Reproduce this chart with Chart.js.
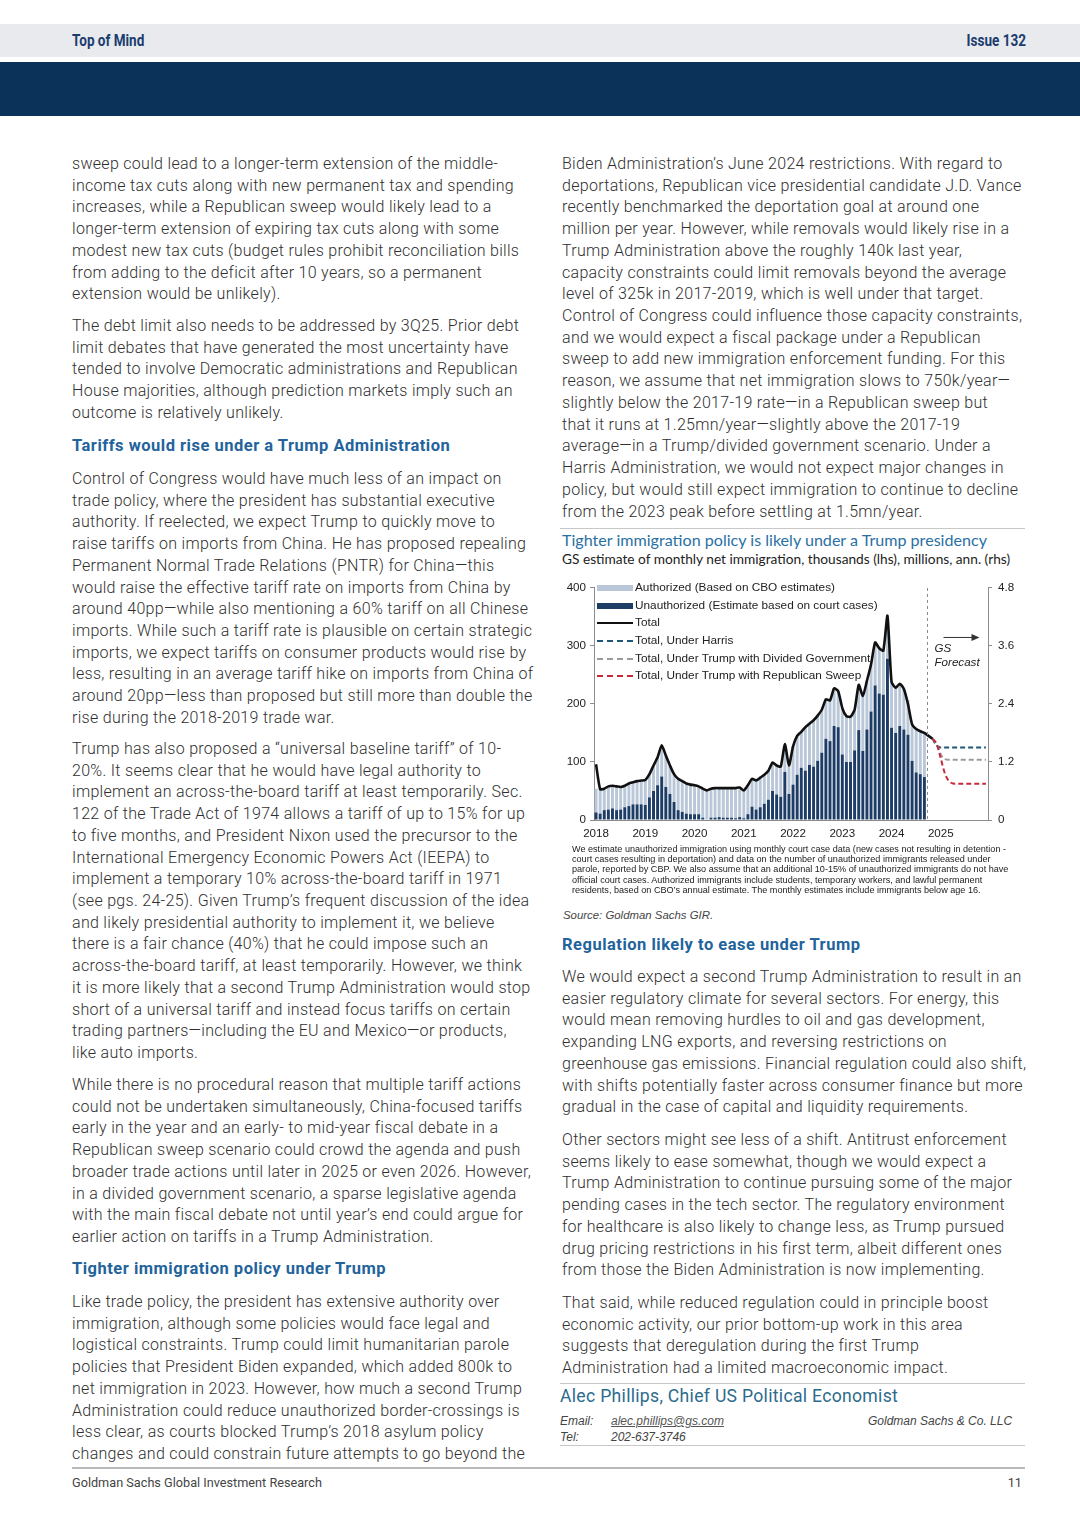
<!DOCTYPE html>
<html>
<head>
<meta charset="utf-8">
<script src="https://cdn.jsdelivr.net/npm/chart.js@4.4.1/dist/chart.umd.min.js"></script>
<style>
  html, body { margin: 0; padding: 0; background: #fff; }
  #page { position: relative; width: 1080px; height: 1527px; overflow: hidden; font-family: Roboto, "Liberation Sans", sans-serif; color: #333; }
  .band { position: absolute; left: 0; width: 1080px; }
  .hdr { position: absolute; top: 31px; font-family: Roboto, "Liberation Sans", sans-serif; font-weight: bold; font-size: 16.5px; color: #1b3d6e; transform: scaleX(0.82); }
  .p { position: absolute; font-weight: 300; font-size: 16px; letter-spacing: 0.3px; line-height: 21.72px; white-space: nowrap; color: #2f2f2f; }
  .h { position: absolute; font-weight: bold; font-size: 16.5px; letter-spacing: 0.5px; line-height: 21.72px; color: #23639c; white-space: nowrap; }
  .rule { position: absolute; height: 1px; background: #c8c8c8; }
  #chartTitle { position: absolute; left: 562px; top: 530px; font-family: Lato, sans-serif; font-size: 16.1px; color: #2a70a4; white-space: nowrap; }
  #chartSub { position: absolute; left: 562px; top: 550px; font-family: Lato, sans-serif; font-size: 13.7px; color: #222; white-space: nowrap; }
  #chartBox { position: absolute; left: 560px; top: 575px; width: 466px; height: 270px; }
  #legend { position: absolute; left: 597px; top: 579px; font-family: "Liberation Sans", Arial, sans-serif; font-size: 11.8px; color: #222; }
  #legend .row { height: 17.7px; line-height: 17.7px; white-space: nowrap; position: relative; }
  #legend .sw { position: absolute; left: 0; width: 36px; }
  #legend .tx { position: absolute; left: 38px; top: 0; }
  #notes { position: absolute; left: 572px; top: 844px; font-family: "Liberation Sans", Arial, sans-serif; font-size: 9.1px; line-height: 10.2px; color: #222; white-space: nowrap; }
  #source { position: absolute; left: 563px; top: 909px; font-family: "Liberation Sans", Arial, sans-serif; font-style: italic; font-size: 11.4px; color: #444; }
  #author { position: absolute; left: 560px; top: 1386px; font-size: 17.6px; letter-spacing: 0.3px; color: #2b6b8c; white-space: nowrap; }
  .small { position: absolute; font-family: "Liberation Sans", sans-serif; font-style: italic; font-size: 12px; color: #444; white-space: nowrap; }
  #footL { position: absolute; left: 72px; top: 1475px; font-size: 12.7px; color: #444; }
  #footR { position: absolute; left: 1000px; width: 22px; text-align: right; top: 1475px; font-size: 12.7px; color: #444; }
</style>
</head>
<body>
<div id="page">
  <div class="band" style="top:24px;height:33px;background:#e9eaee;"></div>
  <div class="band" style="top:62px;height:54px;background:#0b3259;"></div>
  <div class="hdr" style="left:72px;transform-origin:left center;">Top of Mind</div>
  <div class="hdr" style="left:900px;width:126px;text-align:right;transform-origin:right center;">Issue 132</div>

  <div class="p" style="left:72px;top:153px;">sweep could lead to a longer-term extension of the middle-<br>income tax cuts along with new permanent tax and spending<br>increases, while a Republican sweep would likely lead to a<br>longer-term extension of expiring tax cuts along with some<br>modest new tax cuts (budget rules prohibit reconciliation bills<br>from adding to the deficit after 10 years, so a permanent<br>extension would be unlikely).</div>
  <div class="p" style="left:72px;top:315px;">The debt limit also needs to be addressed by 3Q25. Prior debt<br>limit debates that have generated the most uncertainty have<br>tended to involve Democratic administrations and Republican<br>House majorities, although prediction markets imply such an<br>outcome is relatively unlikely.</div>
  <div class="h" style="left:72px;top:435px;">Tariffs would rise under a Trump Administration</div>
  <div class="p" style="left:72px;top:468px;">Control of Congress would have much less of an impact on<br>trade policy, where the president has substantial executive<br>authority. If reelected, we expect Trump to quickly move to<br>raise tariffs on imports from China. He has proposed repealing<br>Permanent Normal Trade Relations (PNTR) for China—this<br>would raise the effective tariff rate on imports from China by<br>around 40pp—while also mentioning a 60% tariff on all Chinese<br>imports. While such a tariff rate is plausible on certain strategic<br>imports, we expect tariffs on consumer products would rise by<br>less, resulting in an average tariff hike on imports from China of<br>around 20pp—less than proposed but still more than double the<br>rise during the 2018-2019 trade war.</div>
  <div class="p" style="left:72px;top:738px;">Trump has also proposed a “universal baseline tariff” of 10-<br>20%. It seems clear that he would have legal authority to<br>implement an across-the-board tariff at least temporarily. Sec.<br>122 of the Trade Act of 1974 allows a tariff of up to 15% for up<br>to five months, and President Nixon used the precursor to the<br>International Emergency Economic Powers Act (IEEPA) to<br>implement a temporary 10% across-the-board tariff in 1971<br>(see pgs. 24-25). Given Trump’s frequent discussion of the idea<br>and likely presidential authority to implement it, we believe<br>there is a fair chance (40%) that he could impose such an<br>across-the-board tariff, at least temporarily. However, we think<br>it is more likely that a second Trump Administration would stop<br>short of a universal tariff and instead focus tariffs on certain<br>trading partners—including the EU and Mexico—or products,<br>like auto imports.</div>
  <div class="p" style="left:72px;top:1074px;">While there is no procedural reason that multiple tariff actions<br>could not be undertaken simultaneously, China-focused tariffs<br>early in the year and an early- to mid-year fiscal debate in a<br>Republican sweep scenario could crowd the agenda and push<br>broader trade actions until later in 2025 or even 2026. However,<br>in a divided government scenario, a sparse legislative agenda<br>with the main fiscal debate not until year’s end could argue for<br>earlier action on tariffs in a Trump Administration.</div>
  <div class="h" style="left:72px;top:1258px;">Tighter immigration policy under Trump</div>
  <div class="p" style="left:72px;top:1291px;">Like trade policy, the president has extensive authority over<br>immigration, although some policies would face legal and<br>logistical constraints. Trump could limit humanitarian parole<br>policies that President Biden expanded, which added 800k to<br>net immigration in 2023. However, how much a second Trump<br>Administration could reduce unauthorized border-crossings is<br>less clear, as courts blocked Trump’s 2018 asylum policy<br>changes and could constrain future attempts to go beyond the</div>

  <div class="p" style="left:562px;top:153px;">Biden Administration’s June 2024 restrictions. With regard to<br>deportations, Republican vice presidential candidate J.D. Vance<br>recently benchmarked the deportation goal at around one<br>million per year. However, while removals would likely rise in a<br>Trump Administration above the roughly 140k last year,<br>capacity constraints could limit removals beyond the average<br>level of 325k in 2017-2019, which is well under that target.<br>Control of Congress could influence those capacity constraints,<br>and we would expect a fiscal package under a Republican<br>sweep to add new immigration enforcement funding. For this<br>reason, we assume that net immigration slows to 750k/year—<br>slightly below the 2017-19 rate—in a Republican sweep but<br>that it runs at 1.25mn/year—slightly above the 2017-19<br>average—in a Trump/divided government scenario. Under a<br>Harris Administration, we would not expect major changes in<br>policy, but would still expect immigration to continue to decline<br>from the 2023 peak before settling at 1.5mn/year.</div>
  <div class="rule" style="left:560px;top:528px;width:465px;"></div>
  <div id="chartTitle">Tighter immigration policy is likely under a Trump presidency</div>
  <div id="chartSub">GS estimate of monthly net immigration, thousands (lhs), millions, ann. (rhs)</div>
  <div id="chartBox"><canvas id="chart"></canvas></div>
  <div id="legend"></div>
  <div id="notes">We estimate unauthorized immigration using monthly court case data (new cases not resulting in detention -<br>court cases resulting in deportation) and data on the number of unauthorized immigrants released under<br>parole, reported by CBP. We also assume that an additional 10-15% of unauthorized immigrants do not have<br>official court cases. Authorized immigrants include students, temporary workers, and lawful permanent<br>residents, based on CBO’s annual estimate. The monthly estimates include immigrants below age 16.</div>
  <div id="source">Source: Goldman Sachs GIR.</div>

  <div class="h" style="left:562px;top:934px;">Regulation likely to ease under Trump</div>
  <div class="p" style="left:562px;top:966px;">We would expect a second Trump Administration to result in an<br>easier regulatory climate for several sectors. For energy, this<br>would mean removing hurdles to oil and gas development,<br>expanding LNG exports, and reversing restrictions on<br>greenhouse gas emissions. Financial regulation could also shift,<br>with shifts potentially faster across consumer finance but more<br>gradual in the case of capital and liquidity requirements.</div>
  <div class="p" style="left:562px;top:1129px;">Other sectors might see less of a shift. Antitrust enforcement<br>seems likely to ease somewhat, though we would expect a<br>Trump Administration to continue pursuing some of the major<br>pending cases in the tech sector. The regulatory environment<br>for healthcare is also likely to change less, as Trump pursued<br>drug pricing restrictions in his first term, albeit different ones<br>from those the Biden Administration is now implementing.</div>
  <div class="p" style="left:562px;top:1292px;">That said, while reduced regulation could in principle boost<br>economic activity, our prior bottom-up work in this area<br>suggests that deregulation during the first Trump<br>Administration had a limited macroeconomic impact.</div>

  <div class="rule" style="left:560px;top:1383px;width:465px;"></div>
  <div id="author">Alec Phillips, Chief US Political Economist</div>
  <div class="small" style="left:560px;top:1414px;">Email:</div>
  <div class="small" style="left:611px;top:1414px;text-decoration:underline;color:#555;">alec.phillips@gs.com</div>
  <div class="small" style="left:868px;top:1414px;">Goldman Sachs &amp; Co. LLC</div>
  <div class="small" style="left:560px;top:1430px;">Tel:</div>
  <div class="small" style="left:611px;top:1430px;">202-637-3746</div>
  <div class="rule" style="left:560px;top:1445px;width:465px;"></div>

  <div class="rule" style="left:72px;top:1467px;width:953px;height:2px;background:#b9b9b9;"></div>
  <div id="footL">Goldman Sachs Global Investment Research</div>
  <div id="footR">11</div>
</div>

<script>
// monthly net immigration, thousands, Jan 2018 onwards
const years = ['2018', '2019', '2020', '2021', '2022', '2023', '2024', '2025'];
const months = ['Jan', 'Feb', 'Mar', 'Apr', 'May', 'Jun', 'Jul', 'Aug', 'Sep', 'Oct', 'Nov', 'Dec'];

// Jan 2018 - Sep 2024
const unauthorized = [
  13, 11, 17, 18, 20, 17, 18, 22, 24, 27, 27, 27,
  26, 39, 50, 60, 75, 57, 45, 31, 17, 14, 11, 10,
  10, 10, 4, 1, 4, 4, 5, 4, 4, 4, 3, 5,
  3, 10, 23, 18, 22, 28, 35, 50, 44, 40, 83, 45,
  61, 78, 90, 85, 95, 92, 102, 116, 140, 136, 162, 160,
  113, 100, 100, 120, 155, 119, 156, 187, 232, 218, 216, 278,
  159, 150, 162, 156, 147, 102, 82, 79, 74
];
const authorized = [
  41, 42, 37, 40, 39, 41, 39, 37, 39, 38, 40, 41,
  43, 40, 44, 48, 52, 54, 49, 48, 54, 53, 52, 51,
  50, 48, 50, 50, 50, 51, 51, 51, 51, 51, 52, 48,
  48, 50, 48, 50, 51, 50, 50, 49, 50, 52, 48, 49,
  66, 67, 62, 75, 71, 80, 78, 74, 68, 70, 65, 62,
  80, 79, 78, 70, 78, 95, 84, 81, 74, 78, 76, 74,
  79, 78, 73, 70, 60, 63, 75, 74, 76
];
// Jan 2018 - Nov 2024
const total = [
  96, 53, 54, 58, 59, 58, 57, 59, 63, 65, 67, 68,
  69, 79, 94, 108, 129, 111, 94, 79, 71, 67, 63, 61,
  60, 58, 54, 51, 54, 55, 55, 55, 55, 55, 55, 56,
  51, 60, 71, 68, 73, 78, 85, 99, 94, 92, 131, 94,
  127, 145, 152, 160, 166, 172, 180, 190, 208, 206, 227, 222,
  193, 179, 178, 190, 233, 214, 240, 268, 306, 296, 292, 352,
  238, 228, 235, 226, 200, 165, 157, 153, 150, 145, 140
];
// forecasts, Nov 2024 - Dec 2025
const harris = [140, 128, 125, 125, 125, 125, 125, 125, 125, 125, 125, 125, 125, 125];
const trumpDivided = [140, 131, 113, 105, 104, 104, 104, 104, 104, 104, 104, 104, 104, 104];
const trumpSweep = [140, 131, 106, 80, 67, 63, 62.5, 62.5, 62.5, 62.5, 62.5, 62.5, 62.5, 62.5];
const forecastStart = 82; // index of Nov 2024

const leftTicks = [0, 100, 200, 300, 400];
const rightTicks = [0, 1.2, 2.4, 3.6, 4.8];

const C = {
    auth: '#b9c7d8',
    unauth: '#1d3d66',
    total: '#111111',
    harris: '#1f5577',
    divided: '#9a9a9a',
    sweep: '#c8283c'
};

const labels = years.flatMap(y => months.map(m => m + ' ' + y));
const pad = arr => Array(forecastStart).fill(null).concat(arr);

const legendItems = [
    { text: 'Authorized (Based on CBO estimates)', type: 'bar', color: C.auth },
    { text: 'Unauthorized (Estimate based on court cases)', type: 'bar', color: C.unauth },
    { text: 'Total', type: 'line', color: C.total },
    { text: 'Total, Under Harris', type: 'dash', color: C.harris },
    { text: 'Total, Under Trump with Divided Government', type: 'dash', color: C.divided },
    { text: 'Total, Under Trump with Republican Sweep', type: 'dash', color: C.sweep }
];
const legendEl = document.getElementById('legend');
legendItems.forEach(it => {
    const row = document.createElement('div');
    row.className = 'row';
    const sw = document.createElement('div');
    sw.className = 'sw';
    if (it.type === 'bar') {
        sw.style.top = '6px'; sw.style.height = '6px'; sw.style.background = it.color;
    } else if (it.type === 'line') {
        sw.style.top = '8px'; sw.style.borderTop = '2.5px solid ' + it.color;
    } else {
        sw.style.top = '8px'; sw.style.borderTop = '2px dashed ' + it.color;
    }
    const tx = document.createElement('div');
    tx.className = 'tx';
    tx.textContent = it.text;
    row.appendChild(sw);
    row.appendChild(tx);
    legendEl.appendChild(row);
});

// dotted divider and "GS Forecast" arrow
const forecastMarker = {
    id: 'forecastMarker',
    afterDatasetsDraw(chart) {
        const { ctx, chartArea, scales } = chart;
        const x = Math.round((scales.x.getPixelForValue(80) + scales.x.getPixelForValue(81)) / 2) + 1.5;
        ctx.save();
        ctx.strokeStyle = '#8a8a8a';
        ctx.lineWidth = 1;
        ctx.setLineDash([3, 3]);
        ctx.beginPath();
        ctx.moveTo(x, chartArea.top);
        ctx.lineTo(x, chartArea.bottom);
        ctx.stroke();
        ctx.setLineDash([]);
        ctx.strokeStyle = '#333';
        ctx.fillStyle = '#333';
        const ay = chartArea.top + 49.5;
        ctx.beginPath();
        ctx.moveTo(x + 16, ay);
        ctx.lineTo(x + 46, ay);
        ctx.stroke();
        ctx.beginPath();
        ctx.moveTo(x + 52, ay);
        ctx.lineTo(x + 44, ay - 3.5);
        ctx.lineTo(x + 44, ay + 3.5);
        ctx.closePath();
        ctx.fill();
        ctx.font = 'italic 11.6px "Liberation Sans", Arial, sans-serif';
        ctx.fillStyle = '#222';
        ctx.textBaseline = 'middle';
        ctx.fillText('GS', x + 7, chartArea.top + 61);
        ctx.fillText('Forecast', x + 7, chartArea.top + 75);
        ctx.restore();
    }
};

const tickFont = { family: '"Liberation Sans", Arial, sans-serif', size: 11.6 };
const axisColor = '#8c8c8c';

new Chart(document.getElementById('chart').getContext('2d'), {
    type: 'bar',
    data: {
        labels: labels,
        datasets: [
            { type: 'line', label: 'Total, Under Trump with Republican Sweep', data: pad(trumpSweep), yAxisID: 'yl',
              borderColor: C.sweep, borderWidth: 2, borderDash: [5, 3], pointRadius: 0, cubicInterpolationMode: 'monotone', order: 0 },
            { type: 'line', label: 'Total', data: total, yAxisID: 'yl',
              borderColor: C.total, borderWidth: 2.6, pointRadius: 0, tension: 0.2, order: 1 },
            { type: 'line', label: 'Total, Under Trump with Divided Government', data: pad(trumpDivided), yAxisID: 'yl',
              borderColor: C.divided, borderWidth: 2, borderDash: [5, 3], pointRadius: 0, cubicInterpolationMode: 'monotone', order: 2 },
            { type: 'line', label: 'Total, Under Harris', data: pad(harris), yAxisID: 'yl',
              borderColor: C.harris, borderWidth: 2, borderDash: [5, 3], pointRadius: 0, cubicInterpolationMode: 'monotone', order: 3 },
            { label: 'Unauthorized (Estimate based on court cases)', data: unauthorized, yAxisID: 'y',
              backgroundColor: C.unauth, barPercentage: 0.72, categoryPercentage: 1, order: 5 },
            { label: 'Authorized (Based on CBO estimates)', data: authorized, yAxisID: 'y',
              backgroundColor: C.auth, barPercentage: 0.72, categoryPercentage: 1, order: 6 }
        ]
    },
    options: {
        responsive: true,
        maintainAspectRatio: false,
        animation: false,
        layout: { padding: { top: 10, left: 0, right: 0, bottom: 0 } },
        plugins: { legend: { display: false }, tooltip: { enabled: false } },
        scales: {
            x: {
                stacked: true,
                offset: true,
                grid: {
                    offset: true,
                    drawOnChartArea: false,
                    drawTicks: true,
                    tickLength: 4,
                    color: ctx => (ctx.index % 12 === 0 ? axisColor : 'rgba(0,0,0,0)')
                },
                border: { color: axisColor },
                ticks: {
                    autoSkip: false,
                    maxRotation: 0,
                    padding: 3,
                    font: tickFont,
                    color: '#222',
                    callback: (v, i) => (i % 12 === 0 ? years[i / 12] : null)
                },
                afterFit: s => { s.height = 25; }
            },
            y: {
                stacked: true,
                position: 'left',
                min: leftTicks[0],
                max: leftTicks[leftTicks.length - 1],
                afterBuildTicks: s => { s.ticks = leftTicks.map(v => ({ value: v })); },
                grid: { drawOnChartArea: false, drawTicks: true, tickLength: 4, color: axisColor },
                border: { color: axisColor },
                ticks: { font: tickFont, color: '#222', padding: 4 },
                afterFit: s => { s.width = 34; }
            },
            y2: {
                position: 'right',
                min: rightTicks[0],
                max: rightTicks[rightTicks.length - 1],
                afterBuildTicks: s => { s.ticks = rightTicks.map(v => ({ value: v })); },
                grid: { drawOnChartArea: false, drawTicks: true, tickLength: 4, color: axisColor },
                border: { color: axisColor },
                ticks: { font: tickFont, color: '#222', padding: 6, callback: v => (v === 0 ? '0' : v.toFixed(1)) },
                afterFit: s => { s.width = 38; }
            },
            yl: {
                display: false,
                min: leftTicks[0],
                max: leftTicks[leftTicks.length - 1]
            }
        }
    },
    plugins: [forecastMarker]
});
</script>
</body>
</html>
